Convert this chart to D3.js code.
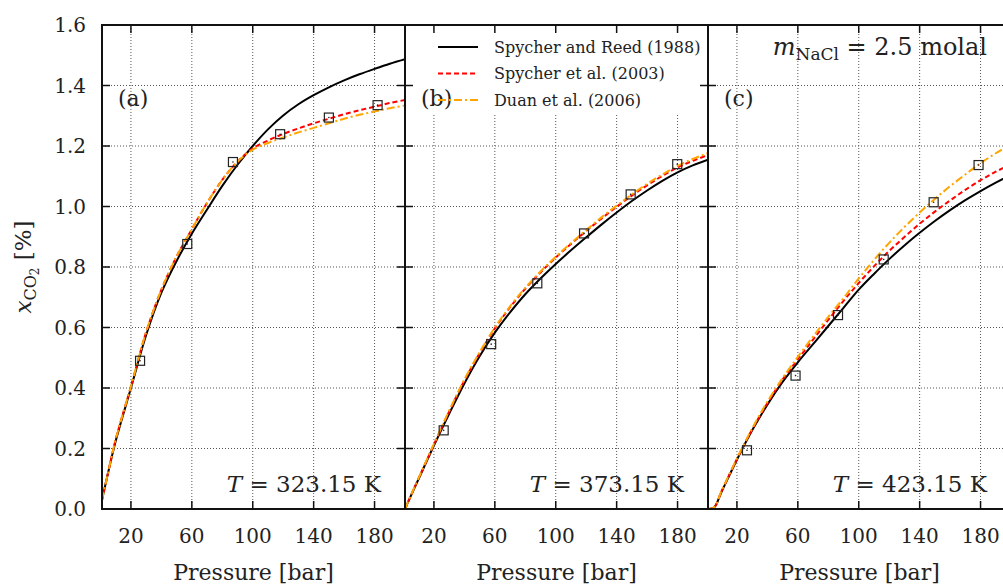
<!DOCTYPE html>
<html><head><meta charset="utf-8">
<script src="https://cdn.jsdelivr.net/npm/d3@7"></script>
<style>
body{margin:0;background:#fff}
svg{display:block}
text{font-family:"DejaVu Serif",serif;fill:#222}
</style>
</head><body>
<svg id="chart" width="1003" height="586"></svg>
<script>
// ---------- data ----------
const pressure = [1,5,10,20,30,40,50,60,70,80,90,100,110,120,130,140,150,160,170,180,190,200];
const panelLabels = ["(a)","(b)","(c)"];
const temperatures = ["323.15","373.15","423.15"];
const seriesNames = ["Spycher and Reed (1988)","Spycher et al. (2003)","Duan et al. (2006)"];
const xTicks = [20,60,100,140,180];
const yTicks = [0,0.2,0.4,0.6,0.8,1.0,1.2,1.4,1.6];

// panel (a) T = 323.15 K
const reed_a    = [0.03,0.12,0.225,0.40,0.575,0.715,0.82,0.91,0.99,1.068,1.138,1.20,1.255,1.301,1.338,1.368,1.394,1.417,1.437,1.455,1.472,1.487];
const spycher_a = [0.03,0.12,0.23,0.405,0.585,0.725,0.835,0.925,1.012,1.088,1.148,1.192,1.218,1.24,1.258,1.275,1.29,1.305,1.318,1.33,1.342,1.352];
const duan_a    = [0.03,0.12,0.23,0.405,0.585,0.725,0.835,0.925,1.012,1.088,1.148,1.188,1.21,1.228,1.245,1.26,1.275,1.29,1.303,1.314,1.325,1.334];
const expP_a = [26,57,87,118,150,182];
const expX_a = [0.49,0.876,1.147,1.239,1.294,1.335];

// panel (b) T = 373.15 K
const reed_b    = [0,0.045,0.10,0.21,0.315,0.415,0.505,0.583,0.65,0.71,0.762,0.81,0.855,0.898,0.94,0.98,1.018,1.053,1.085,1.113,1.136,1.155];
const spycher_b = [0,0.046,0.102,0.213,0.322,0.425,0.515,0.597,0.667,0.728,0.782,0.831,0.876,0.919,0.96,0.999,1.036,1.07,1.101,1.129,1.151,1.17];
const duan_b    = [0,0.047,0.103,0.215,0.325,0.428,0.518,0.600,0.670,0.731,0.785,0.834,0.879,0.922,0.964,1.003,1.04,1.075,1.106,1.134,1.157,1.177];
const expP_b = [26.4,57.6,87.9,118.6,149.2,179.8];
const expX_b = [0.26,0.545,0.746,0.911,1.04,1.14];

// panel (c) T = 423.15 K
const reed_c    = [0,0.005,0.058,0.163,0.26,0.345,0.42,0.485,0.545,0.605,0.665,0.725,0.777,0.826,0.871,0.913,0.952,0.988,1.021,1.051,1.079,1.105];
const spycher_c = [0,0.005,0.06,0.165,0.263,0.35,0.428,0.495,0.56,0.625,0.688,0.747,0.802,0.853,0.899,0.943,0.983,1.02,1.055,1.087,1.115,1.14];
const duan_c    = [0,0.005,0.061,0.167,0.266,0.355,0.433,0.503,0.57,0.635,0.697,0.762,0.823,0.88,0.932,0.98,1.025,1.067,1.106,1.143,1.176,1.206];
const expP_c = [26.6,58.5,86.4,116.4,149.2,178.7];
const expX_c = [0.194,0.441,0.641,0.825,1.014,1.137];

const panels = [
  {label:panelLabels[0], T:temperatures[0], series:[reed_a,spycher_a,duan_a], expP:expP_a, expX:expX_a},
  {label:panelLabels[1], T:temperatures[1], series:[reed_b,spycher_b,duan_b], expP:expP_b, expX:expX_b},
  {label:panelLabels[2], T:temperatures[2], series:[reed_c,spycher_c,duan_c], expP:expP_c, expX:expX_c}
];

// ---------- layout ----------
const svg = d3.select("#chart");
const plotTop = 25, plotBottom = 509, left0 = 102, pw = 303;
const styles = [
  {color:"#000", dash:null, w:2},
  {color:"#ff0000", dash:"5,3", w:2},
  {color:"#ffa500", dash:"8,3,2,3", w:2}
];
const x = d3.scaleLinear().domain([1,200]).range([0,pw]);
const y = d3.scaleLinear().domain([0,1.6]).range([plotBottom,plotTop]);
const line = d3.line().x(d => x(d[0])).y(d => y(d[1])).curve(d3.curveCatmullRom.alpha(0.5));

panels.forEach((p,i) => {
  const L = left0 + i*pw;
  const g = svg.append("g").attr("transform",`translate(${L},0)`);
  const cid = "clip"+i;
  svg.append("clipPath").attr("id",cid).append("rect")
     .attr("x",0).attr("y",plotTop).attr("width",pw).attr("height",plotBottom-plotTop);

  // grid
  const grid = g.append("g").attr("stroke","#555").attr("stroke-width",1).attr("stroke-dasharray","1,2");
  grid.selectAll("line.v").data(xTicks).join("line")
    .attr("x1",d=>x(d)).attr("x2",d=>x(d)).attr("y1",plotTop).attr("y2",plotBottom);
  grid.selectAll("line.h").data(yTicks.slice(1,-1)).join("line")
    .attr("x1",0).attr("x2",pw).attr("y1",d=>y(d)).attr("y2",d=>y(d));

  // legend box in panel b
  if (i === 1) {
    g.append("rect").attr("x",1).attr("y",28).attr("width",pw-2).attr("height",86).attr("fill","#fff");
  }

  // curves
  const cg = g.append("g").attr("clip-path",`url(#${cid})`);
  p.series.forEach((s,k) => {
    cg.append("path").datum(pressure.map((P,j)=>[P,s[j]]))
      .attr("d",line).attr("fill","none")
      .attr("stroke",styles[k].color).attr("stroke-width",styles[k].w)
      .attr("stroke-dasharray",styles[k].dash);
  });
  // experimental points
  const pts = p.expP.map((P,j)=>[P,p.expX[j]]);
  cg.selectAll("rect.pt").data(pts).join("rect")
    .attr("x",d=>x(d[0])-4.5).attr("y",d=>y(d[1])-4.5).attr("width",9).attr("height",9)
    .attr("fill","none").attr("stroke","#222").attr("stroke-width",1.2);
  cg.selectAll("circle.pt").data(pts).join("circle")
    .attr("cx",d=>x(d[0])).attr("cy",d=>y(d[1])).attr("r",0.8).attr("fill","#222");

  // ticks (inward, all sides)
  const tk = g.append("g").attr("stroke","#111").attr("stroke-width",1.5);
  xTicks.forEach(t => {
    tk.append("line").attr("x1",x(t)).attr("x2",x(t)).attr("y1",plotBottom).attr("y2",plotBottom-8);
    tk.append("line").attr("x1",x(t)).attr("x2",x(t)).attr("y1",plotTop).attr("y2",plotTop+8);
  });
  yTicks.forEach(t => {
    tk.append("line").attr("x1",0).attr("x2",8).attr("y1",y(t)).attr("y2",y(t));
    tk.append("line").attr("x1",pw).attr("x2",pw-8).attr("y1",y(t)).attr("y2",y(t));
  });

  // border
  g.append("rect").attr("x",0).attr("y",plotTop).attr("width",pw).attr("height",plotBottom-plotTop)
    .attr("fill","none").attr("stroke","#111").attr("stroke-width",2);

  // x tick labels
  g.selectAll("text.xt").data(xTicks).join("text")
    .attr("x",d=>x(d)).attr("y",543).attr("text-anchor","middle")
    .attr("font-size",20).text(d=>d);
  // axis title
  g.append("text").attr("x",pw/2).attr("y",580).attr("text-anchor","middle")
    .attr("font-size",22).text("Pressure [bar]");
  // panel label
  g.append("text").attr("x",16).attr("y",106).attr("font-size",22).text(p.label);
  // temperature label
  const tt = g.append("text").attr("x",pw-24).attr("y",492).attr("text-anchor","end").attr("font-size",23);
  tt.append("tspan").attr("font-style","italic").text("T");
  tt.append("tspan").text(" = " + p.T + " K");

  if (i === 1) {
    const lg = g.append("g");
    seriesNames.forEach((n,k) => {
      const yy = 47 + k*26.5;
      lg.append("line").attr("x1",33).attr("x2",73).attr("y1",yy).attr("y2",yy)
        .attr("stroke",styles[k].color).attr("stroke-width",styles[k].w)
        .attr("stroke-dasharray",styles[k].dash);
      lg.append("text").attr("x",89).attr("y",yy).attr("dy","0.36em")
        .attr("font-size",16).text(n);
    });
  }
  if (i === 2) {
    const mt = g.append("text").attr("x",pw-24).attr("y",55).attr("text-anchor","end").attr("font-size",24);
    mt.append("tspan").attr("font-style","italic").text("m");
    mt.append("tspan").attr("font-size",17).attr("dy",5).text("NaCl");
    mt.append("tspan").attr("dy",-5).text(" = 2.5 molal");
  }
});

// y tick labels
svg.selectAll("text.yt").data(yTicks).join("text")
  .attr("x",86).attr("y",d=>y(d)).attr("dy","0.36em").attr("text-anchor","end")
  .attr("font-size",20).text(d=>d.toFixed(1));

// y axis title
const yl = svg.append("text").attr("transform","translate(31,267) rotate(-90)")
  .attr("text-anchor","middle").attr("font-size",23);
yl.append("tspan").attr("font-style","italic").text("x");
yl.append("tspan").attr("font-size",16).attr("dy",5).text("CO");
yl.append("tspan").attr("font-size",12).attr("dy",3).text("2");
yl.append("tspan").attr("dy",-8).text(" [%]");
</script>
</body></html>
